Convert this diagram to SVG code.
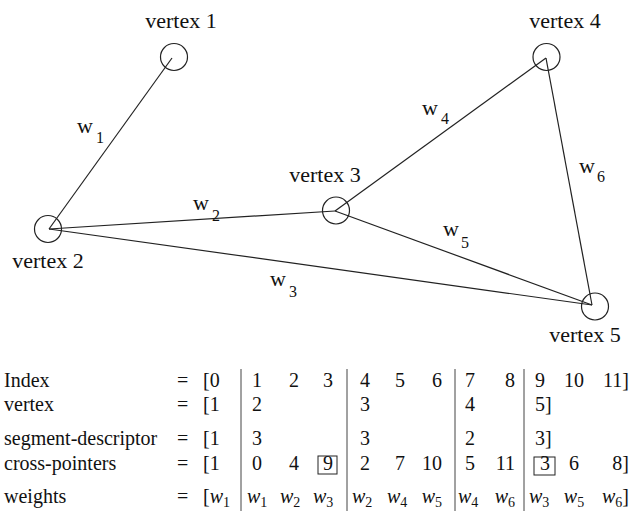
<svg xmlns="http://www.w3.org/2000/svg" width="635" height="516" viewBox="0 0 635 516" font-family="Times New Roman">
<defs>
<style>
.v{font-family:'Times New Roman','Liberation Serif',serif;font-size:22px;fill:#111;text-anchor:middle}
.e{font-family:'Times New Roman','Liberation Serif',serif;font-size:22px;fill:#111}
.es{font-family:'Times New Roman','Liberation Serif',serif;font-size:16px;fill:#111}
.t{font-family:'Times New Roman','Liberation Serif',serif;font-size:20px;fill:#111}
.m{text-anchor:middle}
.r{text-anchor:end}
.i{font-style:italic}
.s{font-size:14px;font-style:normal}
.edge{stroke:#222;stroke-width:1.2;fill:none}
.node{stroke:#222;stroke-width:1.2;fill:none}
.bar{stroke:#444;stroke-width:1}
.box{fill:none;stroke:#222;stroke-width:1}
</style>
</defs>
<rect x="0" y="0" width="635" height="516" fill="#ffffff"/>
<g id="edges">
<line class="edge" x1="172" y1="58" x2="49" y2="229"/>
<line class="edge" x1="49" y1="229" x2="335" y2="211"/>
<line class="edge" x1="49" y1="229" x2="592" y2="305"/>
<line class="edge" x1="335" y1="211" x2="546" y2="58"/>
<line class="edge" x1="335" y1="211" x2="592" y2="305"/>
<line class="edge" x1="546" y1="58" x2="592" y2="305"/>
<text class="e" x="77" y="133">w</text><text class="es" x="96" y="143">1</text>
<text class="e" x="193" y="210">w</text><text class="es" x="212" y="221">2</text>
<text class="e" x="270" y="286">w</text><text class="es" x="289" y="297">3</text>
<text class="e" x="422" y="115">w</text><text class="es" x="441" y="124">4</text>
<text class="e" x="443" y="236">w</text><text class="es" x="461" y="248">5</text>
<text class="e" x="579" y="173">w</text><text class="es" x="597" y="182">6</text>
</g>
<g id="vertex1"><circle class="node" cx="174" cy="57" r="13.5"/><text class="v" x="181" y="28">vertex 1</text></g>
<g id="vertex2"><circle class="node" cx="48" cy="229" r="13.5"/><text class="v" x="48" y="268">vertex 2</text></g>
<g id="vertex3"><circle class="node" cx="336" cy="210.5" r="13.5"/><text class="v" x="325" y="182">vertex 3</text></g>
<g id="vertex4"><circle class="node" cx="546.5" cy="57" r="13.5"/><text class="v" x="565" y="28">vertex 4</text></g>
<g id="vertex5"><circle class="node" cx="595" cy="306.5" r="13.5"/><text class="v" x="585" y="342">vertex 5</text></g>
<g id="table">
<line class="bar" x1="241" y1="369" x2="241" y2="511"/>
<line class="bar" x1="347" y1="369" x2="347" y2="511"/>
<line class="bar" x1="455" y1="369" x2="455" y2="511"/>
<line class="bar" x1="524" y1="369" x2="524" y2="511"/>
<rect class="box" x="318" y="456" width="19" height="18"/>
<rect class="box" x="534" y="457" width="21" height="18"/>
<text class="t" x="4" y="387">Index</text>
<text class="t" x="4" y="411">vertex</text>
<text class="t" x="4" y="445">segment-descriptor</text>
<text class="t" x="4" y="470">cross-pointers</text>
<text class="t" x="4" y="503">weights</text>
<text class="t" x="177" y="387">=</text>
<text class="t" x="177" y="411">=</text>
<text class="t" x="177" y="445">=</text>
<text class="t" x="177" y="470">=</text>
<text class="t" x="177" y="503">=</text>
<text class="t" x="203" y="387">[0</text>
<text class="t" x="203" y="411">[1</text>
<text class="t" x="203" y="445">[1</text>
<text class="t" x="203" y="470">[1</text>
<text class="t" x="203" y="503">[<tspan class="i">w</tspan><tspan class="s" dy="4">1</tspan></text>
<text class="t" x="252" y="387">1</text>
<text class="t" x="252" y="411">2</text>
<text class="t" x="252" y="445">3</text>
<text class="t" x="252" y="470">0</text>
<text class="t" x="247" y="503"><tspan class="i">w</tspan><tspan class="s" dy="4">1</tspan></text>
<text class="t" x="289" y="387">2</text>
<text class="t" x="289" y="470">4</text>
<text class="t" x="280" y="503"><tspan class="i">w</tspan><tspan class="s" dy="4">2</tspan></text>
<text class="t" x="323" y="387">3</text>
<text class="t" x="323" y="470">9</text>
<text class="t" x="313" y="503"><tspan class="i">w</tspan><tspan class="s" dy="4">3</tspan></text>
<text class="t" x="360" y="387">4</text>
<text class="t" x="360" y="411">3</text>
<text class="t" x="360" y="445">3</text>
<text class="t" x="360" y="470">2</text>
<text class="t" x="352" y="503"><tspan class="i">w</tspan><tspan class="s" dy="4">2</tspan></text>
<text class="t" x="395" y="387">5</text>
<text class="t" x="395" y="470">7</text>
<text class="t" x="387" y="503"><tspan class="i">w</tspan><tspan class="s" dy="4">4</tspan></text>
<text class="t r" x="442" y="387">6</text>
<text class="t r" x="442" y="470">10</text>
<text class="t r" x="442" y="503"><tspan class="i">w</tspan><tspan class="s" dy="4">5</tspan></text>
<text class="t" x="465" y="387">7</text>
<text class="t" x="465" y="411">4</text>
<text class="t" x="465" y="445">2</text>
<text class="t" x="465" y="470">5</text>
<text class="t" x="458" y="503"><tspan class="i">w</tspan><tspan class="s" dy="4">4</tspan></text>
<text class="t r" x="515" y="387">8</text>
<text class="t r" x="515" y="470">11</text>
<text class="t r" x="515" y="503"><tspan class="i">w</tspan><tspan class="s" dy="4">6</tspan></text>
<text class="t" x="535" y="387">9</text>
<text class="t" x="535" y="411">5]</text>
<text class="t" x="535" y="445">3]</text>
<text class="t" x="540" y="470">3</text>
<text class="t" x="529" y="503"><tspan class="i">w</tspan><tspan class="s" dy="4">3</tspan></text>
<text class="t m" x="574" y="387">10</text>
<text class="t m" x="574" y="470">6</text>
<text class="t m" x="574" y="503"><tspan class="i">w</tspan><tspan class="s" dy="4">5</tspan></text>
<text class="t r" x="629" y="387">11]</text>
<text class="t r" x="629" y="470">8]</text>
<text class="t r" x="629" y="503"><tspan class="i">w</tspan><tspan class="s" dy="4">6</tspan><tspan dy="-4">]</tspan></text>
</g>
</svg>
